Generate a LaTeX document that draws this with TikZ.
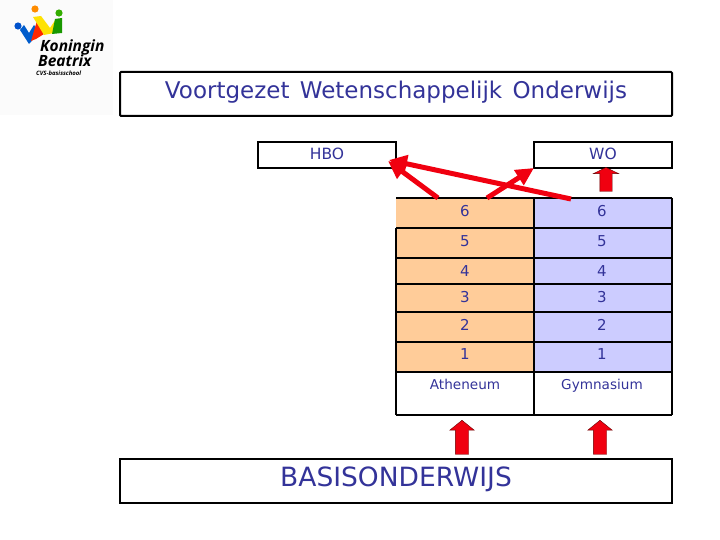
\documentclass[tikz,border=0pt]{standalone}
\usepackage{fontspec}
\setmainfont{DejaVu Sans}
\newfontfamily\logofont{Open Sans}
\usetikzlibrary{shapes.arrows,arrows.meta}
\definecolor{txt}{HTML}{333399}
\definecolor{orng}{HTML}{FFCC99}
\definecolor{lil}{HTML}{CCCCFF}
\definecolor{arrowred}{HTML}{F00010}
\tikzset{
  x=1pt,y=-1pt,
  framebox/.style={draw=black,line width=2pt,fill=white,minimum width=#1,inner sep=0pt,text=txt},
  cell/.style={text=txt,font=\fontsize{15}{17}\selectfont,inner sep=0pt,anchor=base},
  wordcell/.style={text=txt,font=\fontsize{13.6}{16}\selectfont,inner sep=0pt,anchor=base},
  gridline/.style={draw=black,line width=2.4pt},
  blockup/.style={single arrow,draw=black!60!red,line width=.4pt,fill=arrowred,shape border rotate=90,inner xsep=6.5pt,inner ysep=0pt,single arrow head extend=5.5pt,single arrow tip angle=102,text width=0pt},
  slim/.style={draw=arrowred,line width=5pt,-{Triangle[length=18pt,width=17pt]}},
}
\begin{document}
\begin{tikzpicture}
\useasboundingbox (0,0) rectangle (720,540);
\fill[black!1.5] (0,0) rectangle (113,115);
% logo
\fill[blue!55!cyan!80!black] (20,30) -- (29,44) -- (40,32) -- (34,25) -- (29,33) -- (24,25) -- cycle;
\fill[red!70!orange] (31,41) -- (37,21) -- (42,27) -- (44,34) -- (36,39) -- cycle;
\fill[yellow!85!orange] (33,17) -- (41,16) -- (50,28) -- (56,19) -- (54,33) -- (44,35) -- cycle;
\fill[green!55!black!90!yellow] (55,19) -- (62,18) -- (62,33) -- (52,34) -- cycle;
\fill[blue!60!cyan!80!black] (18,26) circle (3.6);
\fill[orange!90!yellow] (35,9) circle (3.6);
\fill[green!60!black!80!yellow] (59,13) circle (3.6);
\node[anchor=base west,inner sep=0pt,font=\logofont\fontsize{15.5}{16}\selectfont\bfseries\itshape] (k1) at (40,52) {Koningin};
\node[anchor=base west,inner sep=0pt,font=\logofont\fontsize{15.5}{16}\selectfont\bfseries\itshape] (k2) at (38,67) {Beatrix};
\node[anchor=base west,inner sep=0pt,font=\logofont\fontsize{6}{6}\selectfont\bfseries\itshape] (k3) at (36,76) {CVS-basisschool};
% table fills
\fill[orng] (396,198) rectangle (534,372);
\fill[lil] (534,198) rectangle (672,372);
\draw[gridline] (396,198) -- (672,198);
\draw[gridline] (396,228) -- (672,228);
\draw[gridline] (396,258) -- (672,258);
\draw[gridline] (396,284) -- (672,284);
\draw[gridline] (396,312) -- (672,312);
\draw[gridline] (396,342) -- (672,342);
\draw[gridline] (396,372) -- (672,372);
\draw[gridline] (396,415) -- (672,415);
\draw[gridline] (396,228) -- (396,415);
\draw[gridline] (534,198) -- (534,415);
\draw[gridline] (672,198) -- (672,415);
% boxes
\node[framebox=552pt,minimum height=44pt,rounded corners=1pt] (title) at (396,94) {};
\node[cell,font=\fontsize{23}{26}\selectfont] (titletext) at (396,99) {Voortgezet\hspace{3pt} Wetenschappelijk\hspace{3pt} Onderwijs};
\node[framebox=138pt,minimum height=26pt] (hbo) at (327,155) {};
\node[framebox=138pt,minimum height=26pt] (wo) at (603,155) {};
\node[cell,font=\fontsize{15.5}{17}\selectfont] (hbot) at (327,160) {HBO};
\node[cell,font=\fontsize{15.5}{17}\selectfont] (wot) at (603,160) {WO};
\node[framebox=552pt,minimum height=44pt] (basis) at (396,481) {};
\node[cell,font=\fontsize{26.5}{29}\selectfont] (basist) at (396,486) {BASISONDERWIJS};
% table labels
\node[cell] (a6) at (465,217) {6}; \node[cell] (g6) at (602,217) {6};
\node[cell] (a5) at (465,246) {5}; \node[cell] (g5) at (602,246) {5};
\node[cell] (a4) at (465,276) {4}; \node[cell] (g4) at (602,276) {4};
\node[cell] (a3) at (465,302) {3}; \node[cell] (g3) at (602,302) {3};
\node[cell] (a2) at (465,330) {2}; \node[cell] (g2) at (602,330) {2};
\node[cell] (a1) at (465,359) {1}; \node[cell] (g1) at (602,359) {1};
\node[wordcell] (ath) at (465,389) {Atheneum};
\node[wordcell] (gym) at (602,389) {Gymnasium};
% arrows
\coordinate (s1) at (438,198); \coordinate (e1) at (388,161);
\coordinate (s2) at (487,198); \coordinate (e2) at (534,168);
\coordinate (s3) at (571,199); \coordinate (e3) at (389,160);
\draw[slim] (s1) -- (e1);
\draw[slim] (s3) -- (e3);
\draw[slim] (s2) -- (e2);
\node[blockup,minimum height=24pt,inner xsep=6pt,single arrow head extend=6.5pt,single arrow tip angle=128] (up1) at (606,181) {};
\node[blockup,minimum height=34pt] (up2) at (462,440) {};
\node[blockup,minimum height=34pt] (up3) at (600,440) {};
\end{tikzpicture}
\end{document}
